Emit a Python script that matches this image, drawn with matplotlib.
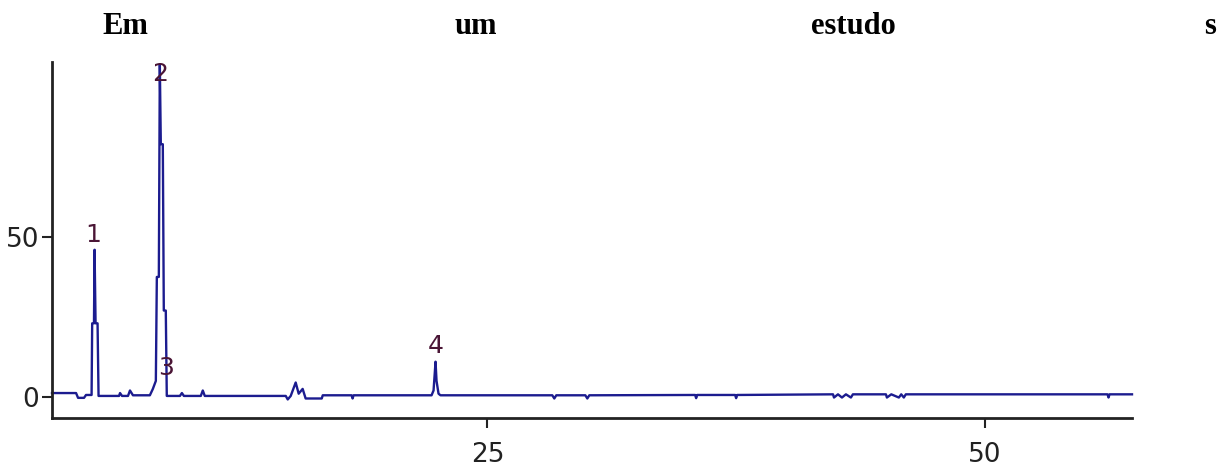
import matplotlib
matplotlib.use("Agg")
import matplotlib.pyplot as plt

# chromatogram trace (retention time, min / signal)
time = [3.11, 4.32, 4.42, 4.72, 4.82, 5.10, 5.13, 5.22, 5.25, 5.30, 5.40, 5.45,
        6.48, 6.53, 6.63, 6.93, 7.03, 7.18, 8.03, 8.18, 8.33, 8.38, 8.48, 8.53,
        8.58, 8.68, 8.73, 8.83, 8.88, 9.54, 9.64, 9.74, 10.59, 10.69, 10.79,
        14.86, 14.96, 15.11, 15.36, 15.51, 15.71, 15.86, 16.67, 16.72, 18.17,
        18.22, 18.27, 22.19, 22.29, 22.39, 22.44, 22.54, 22.64, 28.26, 28.36,
        28.46, 29.92, 30.02, 30.12, 35.44, 35.49, 35.54, 37.45, 37.50, 37.55,
        42.37, 42.42, 42.62, 42.82, 43.02, 43.27, 43.37, 45.03, 45.08, 45.30,
        45.68, 45.80, 45.93, 46.03, 56.17, 56.22, 56.27, 57.40]
signal = [1.2, 1.2, -0.3, -0.3, 0.6, 0.6, 23, 23, 46, 23, 23, 0.3,
          0.3, 1.2, 0.3, 0.3, 2.0, 0.5, 0.5, 2.5, 5.0, 37.5, 37.5, 104,
          79, 79, 27, 27, 0.3, 0.3, 1.2, 0.3, 0.3, 2.0, 0.3,
          0.3, -0.8, 0.3, 4.5, 1.0, 2.5, -0.5, -0.5, 0.5, 0.5,
          -0.5, 0.5, 0.5, 2.0, 11, 5.0, 1.0, 0.5, 0.5, -0.5,
          0.5, 0.5, -0.5, 0.5, 0.6, -0.4, 0.6, 0.6, -0.4, 0.6,
          0.8, -0.2, 0.8, -0.2, 0.8, -0.2, 0.8, 0.8, -0.2, 0.8,
          -0.2, 0.8, -0.2, 0.8, 0.8, -0.2, 0.8, 0.8]

peak_labels = ["1", "2", "3", "4"]
peak_x = [5.17, 8.53, 8.84, 22.39]
peak_y = [50.6, 101, 9, 16]

words = ["Em", "um", "estudo", "s"]
word_x = [125, 476, 853, 1210]

fig = plt.figure(figsize=(12.27, 4.67), dpi=100)
W, H = 1227, 467

for w, px in zip(words, word_x):
    fig.text(px / W, 1 - 27 / H, w, ha="center", va="center",
             family="Liberation Serif", fontweight="bold", fontsize=22)

ax = fig.add_axes([52 / W, 1 - 418 / H, (1132 - 52) / W, (418 - 62) / H])
ax.plot(time, signal, color="#1c1c8f", lw=1.7, clip_on=False)

for lab, x, y in zip(peak_labels, peak_x, peak_y):
    ax.text(x, y, lab, ha="center", va="center", color="#4a1535",
            fontsize=18, family="DejaVu Sans")

ax.set_xlim(3.11, 57.4)
ax.set_ylim(-6.6, 104.7)
ax.set_xticks([25, 50])
ax.set_yticks([0, 50])
ax.tick_params(axis="both", length=7, width=1.5, colors="#222222")
ax.tick_params(axis="x", pad=10)
ax.tick_params(axis="y", pad=2)
for t in ax.get_xticklabels() + ax.get_yticklabels():
    t.set_family("DejaVu Sans")
    t.set_fontsize(19)
    t.set_color("#222222")
for s in ["top", "right"]:
    ax.spines[s].set_visible(False)
for s in ["left", "bottom"]:
    ax.spines[s].set_linewidth(2)
    ax.spines[s].set_color("#222222")

fig.savefig("out.png", dpi=100)
